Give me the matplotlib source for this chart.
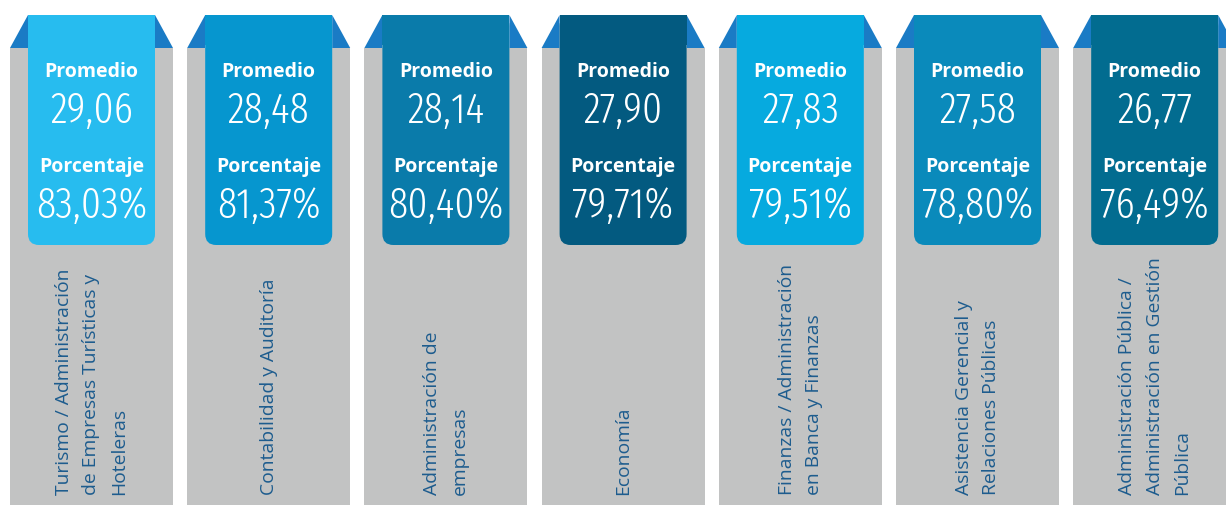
import os
import matplotlib
matplotlib.use('Agg')
import matplotlib.pyplot as plt
from matplotlib import font_manager as fm
from matplotlib.patches import FancyBboxPatch, Rectangle, Polygon

programas = [
    'Turismo / Administración\nde Empresas Turísticas y\nHoteleras',
    'Contabilidad y Auditoría',
    'Administración de\nempresas',
    'Economía',
    'Finanzas / Administración\nen Banca y Finanzas',
    'Asistencia Gerencial y\nRelaciones Públicas',
    'Administración Pública /\nAdministración en Gestión\nPública',
]
promedio = [29.06, 28.48, 28.14, 27.90, 27.83, 27.58, 26.77]
porcentaje = [83.03, 81.37, 80.40, 79.71, 79.51, 78.80, 76.49]
colores = ['#27BCEF', '#0696CF', '#0A7BAA', '#035A80', '#06AADF', '#0A8ABB', '#026C90']

GRIS = '#C2C3C3'
PLIEGUE = '#1A7BC5'
TEXTO = '#1D5C8E'


def fuente_condensada():
    # look for a narrow, thin face for the big numbers
    mejor, puntos = None, -1
    for f in fm.fontManager.ttflist:
        n = (f.name + ' ' + os.path.basename(f.fname)).lower().replace(' ', '')
        if 'italic' in n or 'oblique' in n:
            continue
        if 'extracondensed' in n or 'ultracondensed' in n:
            p = 6
        elif 'semicondensed' in n:
            p = 2
        elif 'condensed' in n or 'narrow' in n:
            p = 5
        else:
            continue
        if 'extralight' in n:
            p += 2
        elif 'light' in n:
            p += 3
        elif 'bold' in n or 'black' in n or 'medium' in n or 'thin' in n:
            p -= 4
        else:
            p += 1
        if p > puntos:
            mejor, puntos = f.fname, p
    if mejor:
        return fm.FontProperties(fname=mejor)
    return fm.FontProperties(family='DejaVu Sans', stretch='condensed', weight='light')


fp_num = fuente_condensada()

W, H = 1226, 505
fig = plt.figure(figsize=(W / 100, H / 100), dpi=100)
ax = fig.add_axes([0, 0, 1, 1])
ax.set_xlim(0, W)
ax.set_ylim(H, 0)
ax.axis('off')

paso = 177.2
ancho = 163
x0 = 10
techo_gris = 48
techo_cinta = 15
fondo_cinta = 245
margen = 18

lefts = [x0 + i * paso for i in range(len(programas))]
ax.bar(lefts, [H - techo_gris] * len(lefts), width=ancho, bottom=techo_gris,
       align='edge', color=GRIS, zorder=1)

for i, izq in enumerate(lefts):
    der = izq + ancho
    ci, cd = izq + margen, der - margen
    cx = izq + ancho / 2
    # folded corners
    ax.add_patch(Polygon([(izq, techo_gris), (ci, techo_cinta), (ci, techo_gris)],
                         closed=True, color=PLIEGUE, lw=0, zorder=2))
    ax.add_patch(Polygon([(cd, techo_cinta), (der, techo_gris), (cd, techo_gris)],
                         closed=True, color=PLIEGUE, lw=0, zorder=2))
    # ribbon
    ax.add_patch(FancyBboxPatch((ci, techo_cinta), cd - ci, fondo_cinta - techo_cinta,
                                boxstyle='round,pad=0,rounding_size=11',
                                fc=colores[i], ec='none', zorder=3))
    ax.add_patch(Rectangle((ci, techo_cinta), cd - ci, 30, fc=colores[i], ec='none', zorder=3))

    ax.text(cx, 72, 'Promedio', ha='center', va='center', color='white',
            fontsize=14, fontweight='bold', family='Open Sans', zorder=4)
    ax.text(cx, 111, f'{promedio[i]:.2f}'.replace('.', ','), ha='center', va='center',
            color='white', fontproperties=fp_num, fontsize=31, zorder=4)
    ax.text(cx, 167, 'Porcentaje', ha='center', va='center', color='white',
            fontsize=14, fontweight='bold', family='Open Sans', zorder=4)
    ax.text(cx, 206, f'{porcentaje[i]:.2f}%'.replace('.', ','), ha='center', va='center',
            color='white', fontproperties=fp_num, fontsize=31, zorder=4)

    ax.text(cx, 495, programas[i], rotation=90, ha='center', va='bottom',
            multialignment='left', color=TEXTO, fontsize=13.9, family='Open Sans',
            linespacing=1.68, zorder=4)

fig.savefig('out.png', dpi=100)
